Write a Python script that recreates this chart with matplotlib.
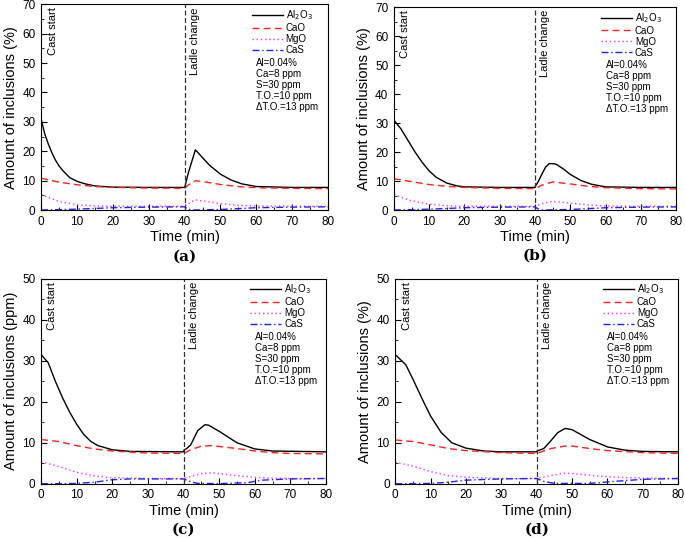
import matplotlib
matplotlib.use("Agg")
import matplotlib.pyplot as plt
from matplotlib.ticker import MultipleLocator

plt.rcParams["font.family"] = ["Liberation Sans", "DejaVu Sans"]

# panel (a)
t_a_al = [0, 1, 2, 3, 4, 5, 6, 8, 10, 12, 15, 20, 30, 40, 40.1, 41, 42, 43, 44, 45, 47, 50, 53, 56, 60, 70, 80]
al_a = [31, 26, 22.5, 19.5, 17, 15, 13.5, 11, 9.8, 9, 8.2, 7.8, 7.7, 7.7, 8, 12.5, 16.5, 20.5, 19.2, 17.8, 15.2, 12.2, 10.2, 8.9, 8.0, 7.7, 7.7]
t_a = [0, 5, 10, 15, 20, 30, 40, 41, 43, 45, 50, 55, 60, 70, 80]
cao_a = [10.8, 9.5, 8.6, 8.0, 7.7, 7.5, 7.4, 8.5, 10.0, 9.7, 8.7, 8.0, 7.6, 7.4, 7.3]
mgo_a = [5.3, 2.9, 1.8, 1.4, 1.3, 1.3, 1.3, 2.2, 3.5, 3.1, 2.2, 1.6, 1.4, 1.3, 1.3]
t_a_cas = [0, 10, 20, 30, 40, 41, 42, 50, 60, 70, 80]
cas_a = [0, 0.3, 0.8, 1.0, 1.1, 0.3, 0, 0.2, 0.8, 1.0, 1.1]

# panel (b)
t_b_al = [0, 2, 4, 6, 8, 10, 12, 15, 18, 20, 30, 40, 40.1, 41, 42, 43, 44, 45, 46, 48, 50, 53, 56, 60, 70, 80]
al_b = [31, 28, 24, 20, 16.5, 13.5, 11.3, 9.3, 8.3, 8.0, 7.8, 7.8, 8.2, 10, 12.5, 14.8, 16, 16, 15.8, 14.2, 12.3, 10.2, 8.9, 8.0, 7.8, 7.8]
t_b = [0, 5, 10, 15, 20, 30, 40, 42, 45, 50, 55, 60, 70, 80]
cao_b = [10.8, 9.8, 8.8, 8.2, 7.8, 7.5, 7.4, 8.6, 9.7, 9.0, 8.2, 7.7, 7.4, 7.3]
mgo_b = [5.3, 3.2, 2.0, 1.5, 1.3, 1.3, 1.3, 2.2, 3.0, 2.4, 1.8, 1.4, 1.3, 1.3]
t_b_cas = [0, 10, 20, 30, 40, 41, 42, 50, 60, 70, 80]
cas_b = [0, 0.3, 0.8, 1.0, 1.1, 0.3, 0, 0.2, 0.8, 1.0, 1.1]

# panel (c)
t_c_al = [0, 2, 4, 6, 8, 10, 12, 14, 16, 20, 25, 40, 40.1, 41, 42, 44, 46, 47, 50, 55, 60, 65, 80]
al_c = [31.5, 29.5, 25, 21, 17.5, 14.5, 12, 10.3, 9.3, 8.3, 7.9, 7.8, 8.2, 8.7, 9.5, 13, 14.4, 14.3, 12.8, 10, 8.5, 8.0, 7.8]
t_c = [0, 5, 10, 15, 20, 30, 40, 42, 45, 48, 55, 60, 65, 70, 80]
cao_c = [10.8, 10.3, 9.3, 8.5, 8.0, 7.5, 7.4, 8.3, 9.2, 9.3, 8.6, 8.0, 7.6, 7.4, 7.3]
mgo_c = [5.4, 4.2, 2.8, 1.9, 1.5, 1.3, 1.3, 1.8, 2.5, 2.7, 2.0, 1.6, 1.4, 1.3, 1.3]
t_c_cas = [0, 10, 15, 20, 25, 40, 42, 44, 50, 58, 62, 70, 80]
cas_c = [0, 0.1, 0.4, 1.0, 1.2, 1.2, 0.5, 0.1, 0.05, 0.3, 0.9, 1.2, 1.3]

# panel (d)
t_d_al = [0, 3, 5, 8, 10, 13, 16, 20, 25, 30, 40, 40.1, 42, 44, 46, 48, 50, 55, 60, 65, 70, 80]
al_d = [31.5, 29, 25.5, 20, 16.5, 12.5, 10, 8.7, 8.0, 7.8, 7.8, 8.0, 8.6, 10.5, 12.5, 13.5, 13.2, 10.8, 9.0, 8.2, 7.9, 7.8]
t_d = [0, 5, 10, 15, 20, 30, 40, 44, 48, 50, 55, 60, 70, 80]
cao_d = [10.7, 10.3, 9.5, 8.6, 8.1, 7.6, 7.4, 8.6, 9.2, 9.2, 8.6, 8.1, 7.6, 7.4]
mgo_d = [5.3, 4.3, 3.0, 2.0, 1.6, 1.3, 1.3, 2.0, 2.6, 2.5, 2.1, 1.7, 1.4, 1.3]
t_d_cas = [0, 10, 15, 20, 30, 40, 42, 45, 55, 62, 70, 80]
cas_d = [0, 0.1, 0.4, 0.9, 1.2, 1.3, 0.6, 0.1, 0.1, 0.6, 1.1, 1.3]

notes = ["Al=0.04%", "Ca=8 ppm", "S=30 ppm", "T.O.=10 ppm", "\u0394T.O.=13 ppm"]


def draw_panel(ax, al, cao, mgo, cas, ymax, ylabel, tag):
    ax.plot(al[0], al[1], color="black", lw=1.0, label="Al$_2$O$_3$")
    ax.plot(cao[0], cao[1], color="#ff2020", lw=1.0, ls=(0, (5, 3)), label="CaO")
    ax.plot(mgo[0], mgo[1], color="#ff30ff", lw=1.0, ls=(0, (1, 2)), label="MgO")
    ax.plot(cas[0], cas[1], color="#2020ff", lw=1.0, ls=(0, (5, 2, 1, 2)), label="CaS")
    ax.axvline(40, color="#333333", lw=0.9, ls=(0, (4, 2)))
    ax.set_xlim(0, 80)
    ax.set_ylim(0, ymax)
    ax.xaxis.set_major_locator(MultipleLocator(10))
    ax.xaxis.set_minor_locator(MultipleLocator(5))
    ax.yaxis.set_major_locator(MultipleLocator(10))
    ax.yaxis.set_minor_locator(MultipleLocator(5))
    ax.tick_params(which="both", direction="in", labelsize=8.5, pad=4)
    ax.tick_params(which="major", length=4)
    ax.tick_params(which="minor", length=2)
    ax.set_xlabel("Time (min)", fontsize=10.5, labelpad=2)
    ax.set_ylabel(ylabel, fontsize=10.5, labelpad=3)
    ax.text(3.2, ymax * 0.985, "Cast start", rotation=90, ha="center", va="top", fontsize=8)
    ax.text(42.8, ymax * 0.985, "Ladle change", rotation=90, ha="center", va="top", fontsize=8)
    ax.legend(loc="upper left", bbox_to_anchor=(0.72, 1.0), frameon=False, fontsize=7,
              handlelength=3.2, handletextpad=0.3, labelspacing=0.1, borderaxespad=0.2,
              borderpad=0.2)
    for i, s in enumerate(notes):
        ax.text(0.75, 0.715 - i * 0.054, s, transform=ax.transAxes, fontsize=7, va="center")
    ax.text(0.5, -0.225, tag, transform=ax.transAxes, ha="center", va="center",
            fontsize=11, fontweight="bold", family="DejaVu Serif")


fig = plt.figure(figsize=(6.85, 5.4), dpi=100)
ax_a = fig.add_axes([0.060, 0.611, 0.419, 0.381])
ax_b = fig.add_axes([0.575, 0.611, 0.412, 0.376])
ax_c = fig.add_axes([0.060, 0.104, 0.416, 0.380])
ax_d = fig.add_axes([0.577, 0.104, 0.413, 0.380])

draw_panel(ax_a, (t_a_al, al_a), (t_a, cao_a), (t_a, mgo_a), (t_a_cas, cas_a), 70, "Amount of inclusions (%)", "(a)")
draw_panel(ax_b, (t_b_al, al_b), (t_b, cao_b), (t_b, mgo_b), (t_b_cas, cas_b), 70, "Amount of inclusions (%)", "(b)")
draw_panel(ax_c, (t_c_al, al_c), (t_c, cao_c), (t_c, mgo_c), (t_c_cas, cas_c), 50, "Amount of inclusions (ppm)", "(c)")
draw_panel(ax_d, (t_d_al, al_d), (t_d, cao_d), (t_d, mgo_d), (t_d_cas, cas_d), 50, "Amount of inclusions (%)", "(d)")

fig.savefig("out.png", dpi=100)
